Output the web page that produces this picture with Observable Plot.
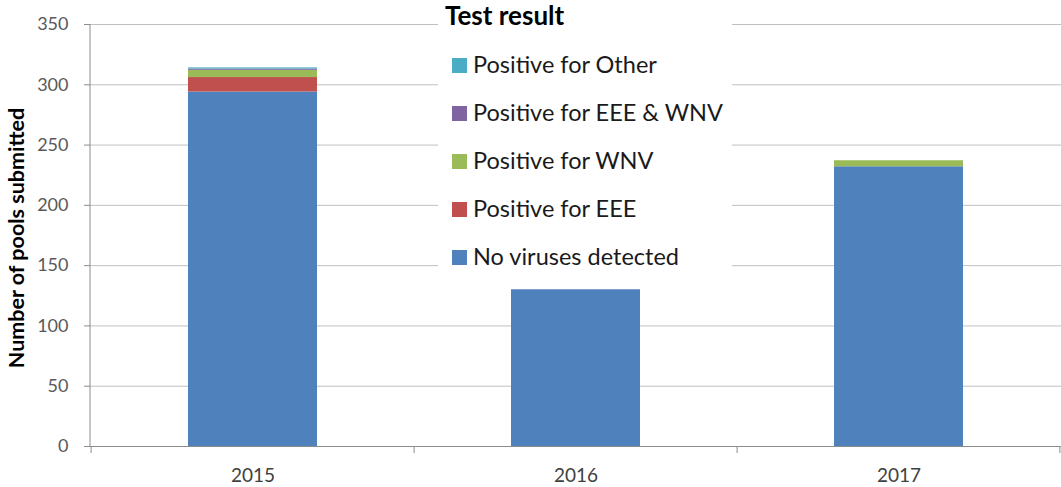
<!DOCTYPE html>
<html>
<head>
<meta charset="utf-8">
<script src="https://cdn.jsdelivr.net/npm/d3@7"></script>
<script src="https://cdn.jsdelivr.net/npm/@observablehq/plot@0.6"></script>
<style>
  html, body { margin: 0; padding: 0; background: #fff; }
  #chart { position: relative; width: 1061px; height: 487px; }
  svg { display: block; }
</style>
</head>
<body>
<div id="chart"></div>
<script>
const years = ["2015", "2016", "2017"];
const seriesNames = ["No viruses detected", "Positive for EEE", "Positive for WNV", "Positive for EEE & WNV", "Positive for Other"];
const noViruses = [294, 130, 232];
const posEEE = [12, 0, 0];
const posWNV = [6, 0, 5];
const posEEEWNV = [1, 0, 0];
const posOther = [1, 0, 0];
const seriesColors = ["#4F81BD", "#C0504D", "#9BBB59", "#8064A2", "#4BACC6"];
const yTicks = [0, 50, 100, 150, 200, 250, 300, 350];
const legendTitle = "Test result";
const yLabel = "Number of pools submitted";

const seriesValues = [noViruses, posEEE, posWNV, posEEEWNV, posOther];
const data = [];
seriesNames.forEach((s, si) => {
  years.forEach((y, yi) => data.push({year: y, series: s, value: seriesValues[si][yi]}));
});

const FONT = "Lato, 'Open Sans', sans-serif";

const plot = Plot.plot({
  width: 1061,
  height: 487,
  marginLeft: 90,
  marginRight: 0,
  marginTop: 24,
  marginBottom: 41,
  style: {fontFamily: FONT, background: "#fff", overflow: "visible"},
  x: {domain: years, paddingInner: 0.6, paddingOuter: 0.3, label: null},
  y: {domain: [0, 350], label: null},
  color: {domain: seriesNames, range: seriesColors},
  marks: [
    Plot.ruleY(yTicks.filter(d => d > 0), {stroke: "#c0c0c0", strokeWidth: 1}),
    Plot.barY(data, {x: "year", y: "value", fill: "series", order: seriesNames, inset: 0}),
    Plot.ruleY([0], {stroke: "#8c8c8c", strokeWidth: 1}),
    Plot.axisY({ticks: yTicks, tickSize: 6, tickPadding: 16, stroke: "#8c8c8c", fill: "#595959", fontSize: 18, tickFormat: d => String(d)}),
    Plot.axisX({tickSize: 0, tickPadding: 22, fill: "#404040", fontSize: 19})
  ]
});

document.getElementById("chart").appendChild(plot);

const svg = d3.select(plot);
const xs = plot.scale("x");
const ys = plot.scale("y");
const bottom = ys.apply(0);
const topY = ys.apply(350);

// force axis font sizes
svg.selectAll('g[aria-label="y-axis tick label"]').attr("font-size", 18).selectAll("text").attr("font-size", 18);
svg.selectAll('g[aria-label="x-axis tick label"]').attr("font-size", 19).selectAll("text").attr("font-size", 19);

// y axis line
svg.append("line").attr("x1", 90).attr("x2", 90)
  .attr("y1", topY).attr("y2", bottom)
  .attr("stroke", "#8c8c8c");

// category boundary ticks
const boundaries = [];
years.forEach((y) => boundaries.push(xs.apply(y) - xs.step * 0.3));
boundaries.push(xs.apply(years[years.length - 1]) + xs.bandwidth + xs.step * 0.3);
boundaries.forEach(bx => {
  svg.append("line").attr("x1", bx).attr("x2", bx)
    .attr("y1", bottom).attr("y2", bottom + 7)
    .attr("stroke", "#8c8c8c");
});

// y label
svg.append("text")
  .attr("transform", `translate(24, ${(topY + bottom) / 2 + 3}) rotate(-90)`)
  .attr("text-anchor", "middle")
  .attr("font-family", FONT)
  .attr("font-weight", "bold")
  .attr("font-size", 21.5)
  .attr("fill", "#000")
  .text(yLabel);

// legend
const cs = plot.scale("color");
const lg = svg.append("g").attr("text-anchor", "start");
lg.append("rect").attr("x", 438).attr("y", 0).attr("width", 294).attr("height", 283).attr("fill", "#fff");
lg.append("text").attr("x", 445).attr("y", 25)
  .attr("font-family", FONT).attr("font-weight", "bold").attr("font-size", 26)
  .attr("fill", "#000").text(legendTitle);
const legendOrder = seriesNames.slice().reverse();
legendOrder.forEach((s, i) => {
  const cy = 65 + i * 48;
  lg.append("rect").attr("x", 452).attr("y", cy - 7).attr("width", 15).attr("height", 15)
    .attr("fill", cs.apply(s));
  lg.append("text").attr("x", 473).attr("y", cy + 8)
    .attr("font-family", FONT).attr("font-size", 23.5)
    .attr("fill", "#1a1a1a").text(s);
});
</script>
</body>
</html>
